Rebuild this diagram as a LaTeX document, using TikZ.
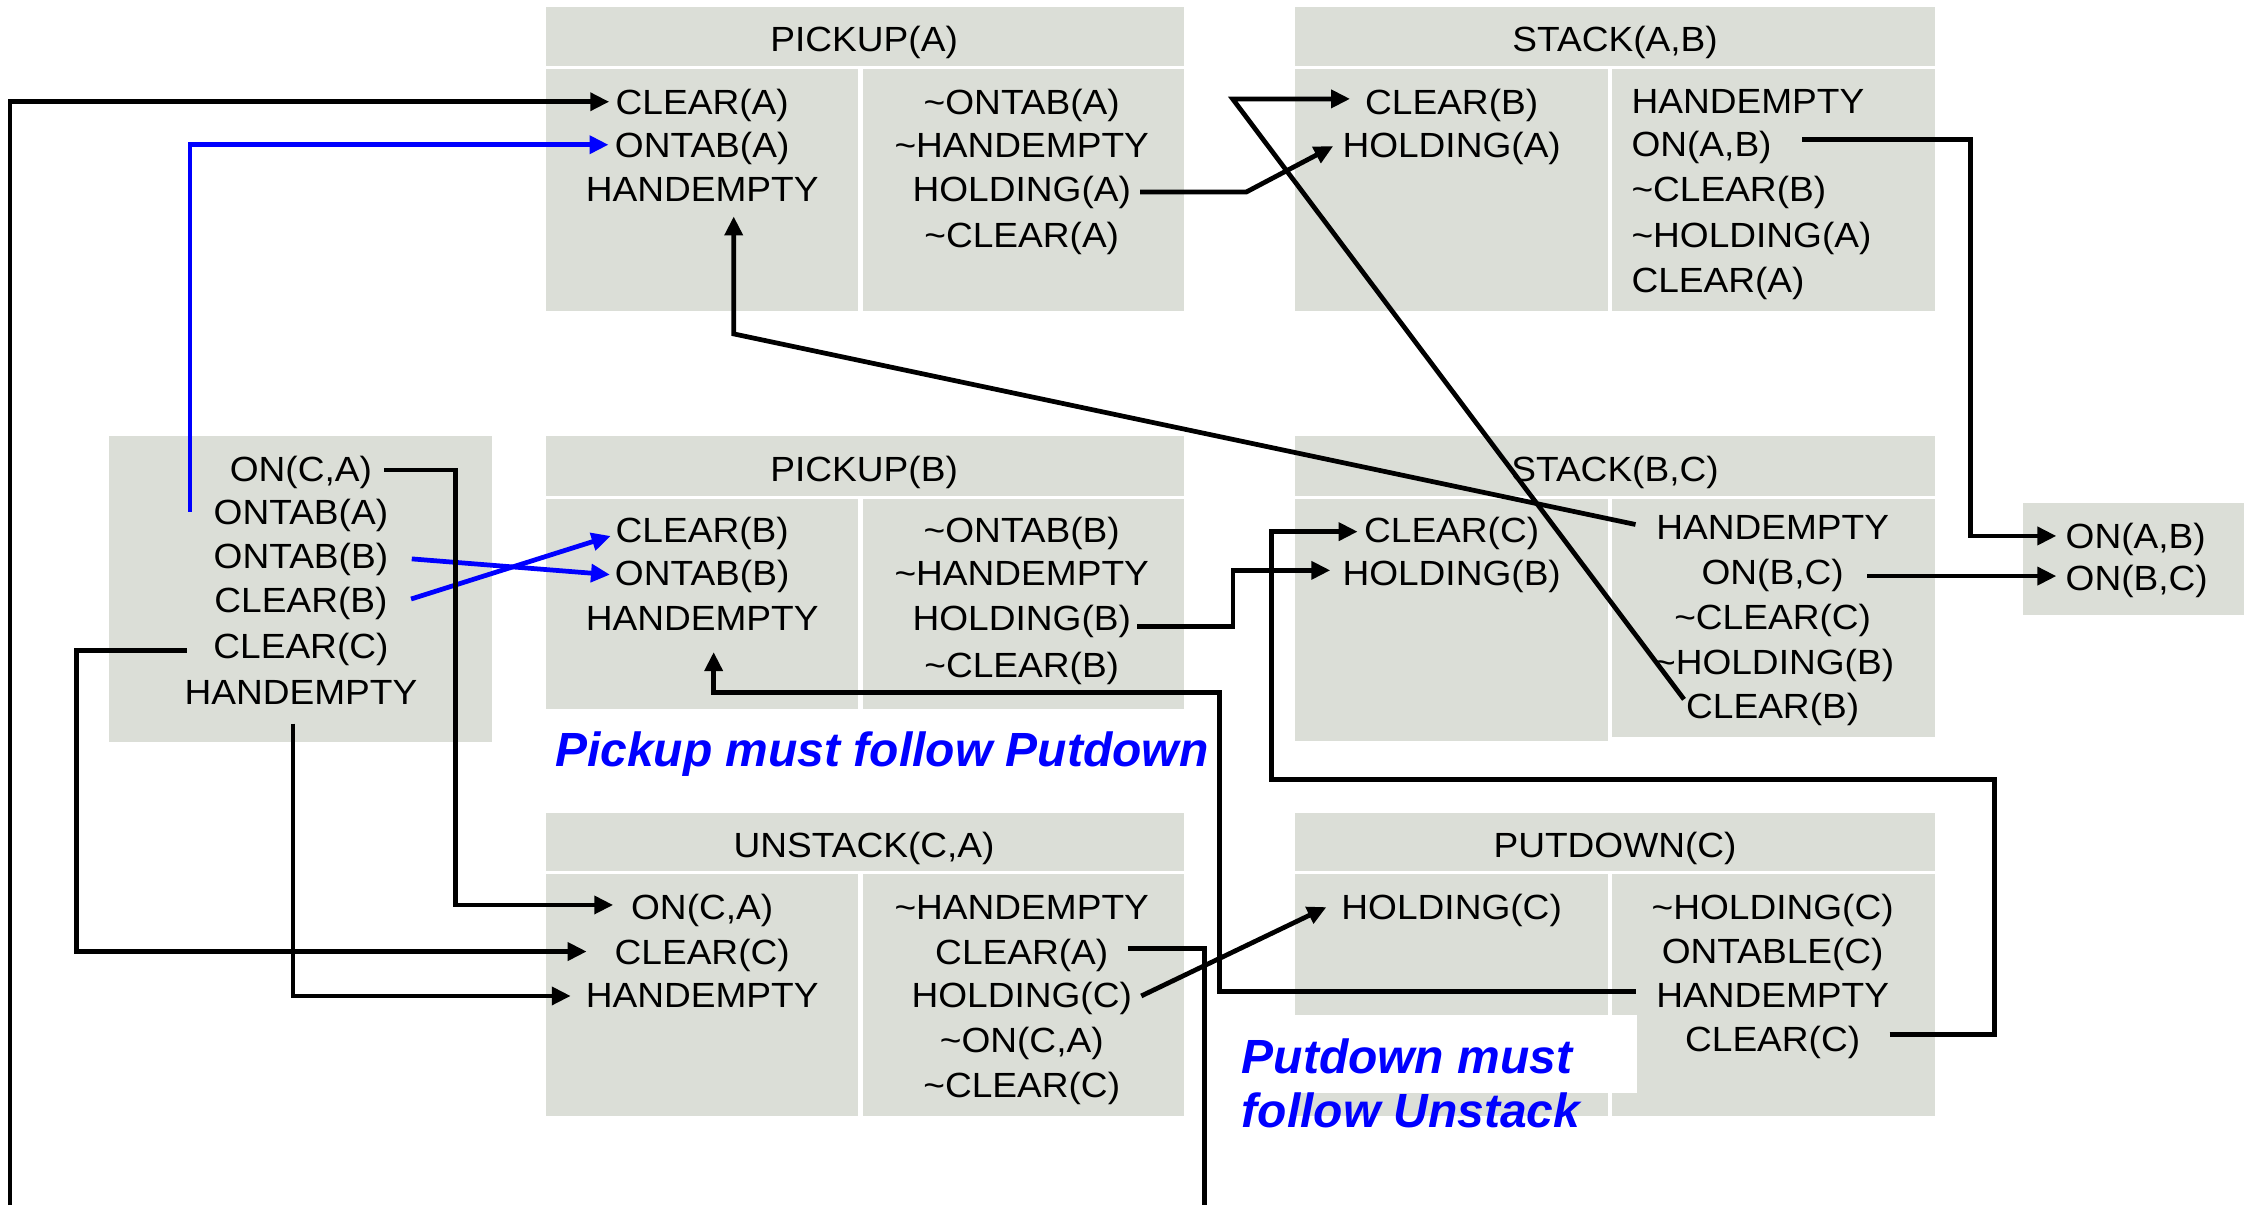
\documentclass[tikz,border=0pt]{standalone}
\usepackage{fontspec}
\setmainfont{Liberation Sans}[FakeStretch=1.06]
\newfontfamily\notefont{Liberation Sans}
\usetikzlibrary{arrows.meta,calc}
\definecolor{panel}{RGB}{219,222,215}
\newcommand{\factsize}{\fontsize{9.95}{11}\selectfont}
\begin{document}
\begin{tikzpicture}[x=0.01433cm,y=-0.01433cm,
  fact/.style={inner sep=0pt,text height=7.1pt,text depth=0pt,font=\factsize},
  lfact/.style={fact,anchor=west},
  note/.style={inner sep=0pt,text=blue,font=\notefont\fontsize{13.65}{16}\selectfont\bfseries\itshape,anchor=base west},
  wire/.style={line width=1.35pt,line join=miter},
  conn/.style={wire,-{Triangle[length=5.4pt,width=5pt]}},
  bconn/.style={conn,draw=blue}]
\useasboundingbox (0,0) rectangle (1568,841);

% ---- gray operator panels ----
\begin{scope}[fill=panel]
  % PICKUP(A)
  \fill (381,5) rectangle (826,46);
  \fill (381,48) rectangle (599,217);
  \fill (602,48) rectangle (826,217);
  % STACK(A,B)
  \fill (904,5) rectangle (1350,46);
  \fill (904,48) rectangle (1122,217);
  \fill (1125,48) rectangle (1350,217);
  % initial state
  \fill (76,304) rectangle (343,518);
  % PICKUP(B)
  \fill (381,304) rectangle (826,346);
  \fill (381,348) rectangle (599,495);
  \fill (602,348) rectangle (826,495);
  % STACK(B,C)
  \fill (904,304) rectangle (1350,346);
  \fill (904,348) rectangle (1122,517);
  \fill (1125,348) rectangle (1350,514);
  % goal
  \fill (1412,351) rectangle (1566,429);
  % UNSTACK(C,A)
  \fill (381,567) rectangle (826,608);
  \fill (381,610) rectangle (599,779);
  \fill (602,610) rectangle (826,779);
  % PUTDOWN(C)
  \fill (904,567) rectangle (1350,608);
  \fill (904,610) rectangle (1122,779);
  \fill (1125,610) rectangle (1350,779);
\end{scope}
\fill[white] (862,708) rectangle (1142,763);

% ---- PICKUP(A) ----
\node[fact] (paH) at (603,27) {PICKUP(A)};
\node[fact] (paL1) at (490,71) {CLEAR(A)};
\node[fact] (paL2) at (490,101) {ONTAB(A)};
\node[fact] (paL3) at (490,132) {HANDEMPTY};
\node[fact] (paR1) at (713,71) {\textasciitilde ONTAB(A)};
\node[fact] (paR2) at (713,101) {\textasciitilde HANDEMPTY};
\node[fact] (paR3) at (713,132) {HOLDING(A)};
\node[fact] (paR4) at (713,164) {\textasciitilde CLEAR(A)};

% ---- STACK(A,B) ----
\node[fact] (sabH) at (1127,27) {STACK(A,B)};
\node[fact] (sabL1) at (1013,71) {CLEAR(B)};
\node[fact] (sabL2) at (1013,101) {HOLDING(A)};
\node[lfact] (sabR1) at (1138,70.5) {HANDEMPTY};
\node[lfact] (sabR2) at (1138,100.5) {ON(A,B)};
\node[lfact] (sabR3) at (1138,132) {\textasciitilde CLEAR(B)};
\node[lfact] (sabR4) at (1138,164) {\textasciitilde HOLDING(A)};
\node[lfact] (sabR5) at (1138,195.5) {CLEAR(A)};

% ---- initial state ----
\node[fact] (i1) at (210,327) {ON(C,A)};
\node[fact] (i2) at (210,357) {ONTAB(A)};
\node[fact] (i3) at (210,388) {ONTAB(B)};
\node[fact] (i4) at (210,419) {CLEAR(B)};
\node[fact] (i5) at (210,451) {CLEAR(C)};
\node[fact] (i6) at (210,483) {HANDEMPTY};

% ---- PICKUP(B) ----
\node[fact] (pbH) at (603,327) {PICKUP(B)};
\node[fact] (pbL1) at (490,370) {CLEAR(B)};
\node[fact] (pbL2) at (490,400) {ONTAB(B)};
\node[fact] (pbL3) at (490,431) {HANDEMPTY};
\node[fact] (pbR1) at (713,370) {\textasciitilde ONTAB(B)};
\node[fact] (pbR2) at (713,400) {\textasciitilde HANDEMPTY};
\node[fact] (pbR3) at (713,431) {HOLDING(B)};
\node[fact] (pbR4) at (713,464) {\textasciitilde CLEAR(B)};

% ---- STACK(B,C) ----
\node[fact] (sbcH) at (1127,327) {STACK(B,C)};
\node[fact] (sbcL1) at (1013,370) {CLEAR(C)};
\node[fact] (sbcL2) at (1013,400) {HOLDING(B)};
\node[fact] (sbcR1) at (1237,368) {HANDEMPTY};
\node[fact] (sbcR2) at (1237,399) {ON(B,C)};
\node[fact] (sbcR3) at (1237,430.5) {\textasciitilde CLEAR(C)};
\node[fact] (sbcR4) at (1238,462) {\textasciitilde HOLDING(B)};
\node[fact] (sbcR5) at (1237,493) {CLEAR(B)};

% ---- goal ----
\node[lfact] (g1) at (1441,374) {ON(A,B)};
\node[lfact] (g2) at (1441,403) {ON(B,C)};

% ---- UNSTACK(C,A) ----
\node[fact] (ucaH) at (603,590) {UNSTACK(C,A)};
\node[fact] (ucaL1) at (490,633) {ON(C,A)};
\node[fact] (ucaL2) at (490,664) {CLEAR(C)};
\node[fact] (ucaL3) at (490,694) {HANDEMPTY};
\node[fact] (ucaR1) at (713,633) {\textasciitilde HANDEMPTY};
\node[fact] (ucaR2) at (713,664) {CLEAR(A)};
\node[fact] (ucaR3) at (713,694) {HOLDING(C)};
\node[fact] (ucaR4) at (713,726) {\textasciitilde ON(C,A)};
\node[fact] (ucaR5) at (713,757) {\textasciitilde CLEAR(C)};

% ---- PUTDOWN(C) ----
\node[fact] (pdH) at (1127,590) {PUTDOWN(C)};
\node[fact] (pdL1) at (1013,633) {HOLDING(C)};
\node[fact] (pdR1) at (1237,633) {\textasciitilde HOLDING(C)};
\node[fact] (pdR2) at (1237,663.5) {ONTABLE(C)};
\node[fact] (pdR3) at (1237,694) {HANDEMPTY};
\node[fact] (pdR4) at (1237,725) {CLEAR(C)};

% ---- ordering notes ----
\node[note] (n1) at (387,535) {Pickup must follow Putdown};
\node[note] (n2) at (866,749) {Putdown must};
\node[note] (n3) at (866,787) {follow Unstack};

% ---- causal links ----
\coordinate (bl) at (7,841);
\coordinate (br) at (840.6,841);
\draw[conn] (bl) |- ($(paL1.west)+(-4,0)$);
\draw[bconn] ($(i2.west)+(-16,0)$) |- ($(paL2.west)+(-4,0)$);
\draw[conn] ($(paR3.east)+(6,2)$) -- ++(74,0) -- ($(sabL2.west)+(-6,1)$);
\draw[conn] ($(sbcR5.west)+(-1,-5)$) -- ($(sabL1.west)+(-92,-2)$) -- ($(sabL1.west)+(-10,-2)$);
\draw[conn] ($(sbcR1.west)+(-14,-2)$) -- ($(paL3.center)+(22,101)$) -- ($(paL3.center)+(22,19)$);
\draw[conn] ($(sabR2.east)+(21,-3)$) -| ($(g1.west)+(-66,0)$) -- ($(g1.west)+(-6,0)$);
\draw[conn] ($(sbcR2.east)+(16,3)$) -- ($(g2.west)+(-6,-1)$);
\draw[bconn] ($(i3.east)+(16,2)$) -- ($(pbL2.west)+(-3,1)$);
\draw[bconn] ($(i4.east)+(16,-1)$) -- ($(pbL1.west)+(-3,4)$);
\draw[conn] ($(i1.east)+(8,1)$) -| ($(ucaL1.west)+(-122,-1.5)$) -- ($(ucaL1.west)+(-12,-1.5)$);
\draw[conn] ($(i5.west)+(-18,3)$) -| ($(ucaL2.west)+(-375,0)$) -- ($(ucaL2.west)+(-19,0)$);
\draw[conn] ($(i6.center)+(-5.5,22)$) |- ($(ucaL3.west)+(-10,1)$);
\draw[conn] ($(pbR3.east)+(4,6)$) -| ($(sbcL2.west)+(-76,-2)$) -- ($(sbcL2.west)+(-8,-2)$);
\draw[conn] ($(pdR4.east)+(20,-3)$) -- ++(73,0) |- ($(sbcL1.west)+(-64,174)$) |- ($(sbcL1.west)+(-4,1)$);
\draw[conn] ($(pdR3.west)+(-14,-2)$) -| ($(pbL3.center)+(361,52)$) -| ($(pbL3.center)+(8,24)$);
\draw[wire] ($(ucaR2.east)+(13,-2)$) -| (br);
\draw[conn] ($(ucaR3.east)+(6,1)$) -- ($(pdL1.west)+(-10,0)$);
\end{tikzpicture}
\end{document}
